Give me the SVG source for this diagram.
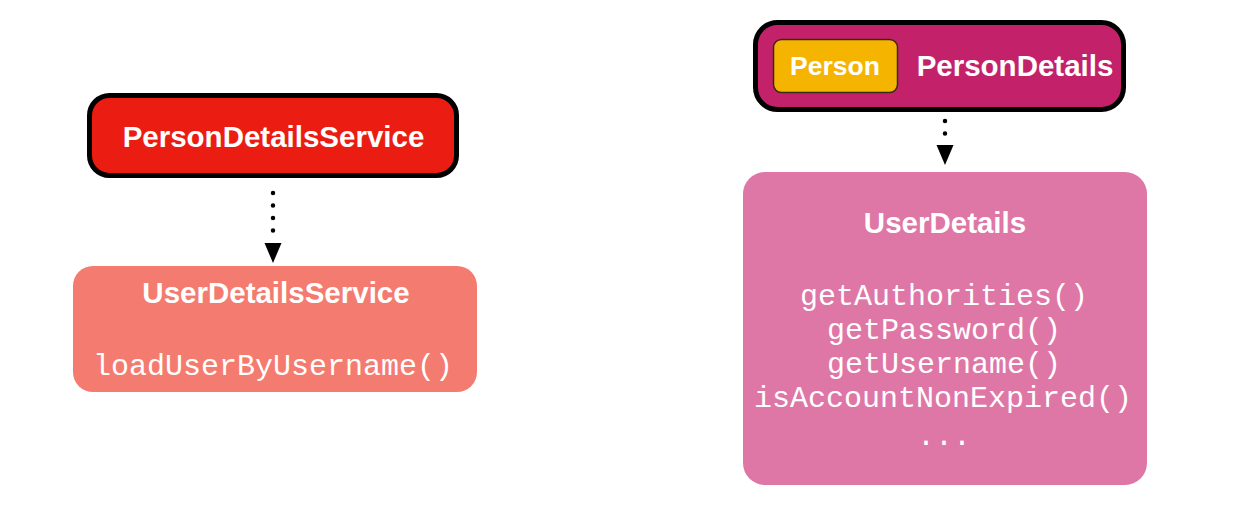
<svg xmlns="http://www.w3.org/2000/svg" width="1238" height="506" viewBox="0 0 1238 506">
<defs>
<style>
.title{font-family:"Liberation Sans",Arial,Helvetica,sans-serif;font-weight:bold;fill:#fff;text-anchor:middle}
.mono{font-family:"Liberation Mono","Courier New",monospace;fill:#fff;text-anchor:middle;font-size:30px}
.dots{stroke:#000;stroke-width:4.5;stroke-linecap:round;stroke-dasharray:0 12.5;fill:none}
</style>
</defs>
<rect width="1238" height="506" fill="#fff"/>
<g id="connectors">
<line class="dots" x1="273" y1="193" x2="273" y2="243"/>
<path d="M264.5,243 L281.5,243 L273,263 Z" fill="#000"/>
<line class="dots" x1="945" y1="121" x2="945" y2="134"/>
<path d="M936.5,145 L953.5,145 L945,165 Z" fill="#000"/>
</g>
<g id="personDetailsService">
<rect x="89.5" y="95.5" width="367" height="80" rx="20" fill="#EB1D12" stroke="#000" stroke-width="5"/>
<text class="title" x="273.5" y="147" font-size="29.5">PersonDetailsService</text>
</g>
<g id="userDetailsService">
<rect x="73" y="266" width="404" height="126" rx="20" fill="#F47B6F"/>
<text class="title" x="276" y="303" font-size="29.5">UserDetailsService</text>
<text class="mono" x="273" y="375">loadUserByUsername()</text>
</g>
<g id="personDetails">
<rect x="755.5" y="22.5" width="368" height="87" rx="22" fill="#C3226A" stroke="#000" stroke-width="5"/>
<g id="person">
<rect x="773.5" y="39.5" width="124" height="53" rx="8" fill="#F5B400" stroke="#3a2a10" stroke-width="1.5"/>
<text class="title" x="835" y="75" font-size="26.5">Person</text>
</g>
<text class="title" x="1015" y="76" font-size="29.5">PersonDetails</text>
</g>
<g id="userDetails">
<rect x="743" y="172" width="404" height="313" rx="22" fill="#DE77A6"/>
<text class="title" x="945" y="233" font-size="29.5">UserDetails</text>
<text class="mono" x="944" y="305">getAuthorities()</text>
<text class="mono" x="944" y="339">getPassword()</text>
<text class="mono" x="944" y="373">getUsername()</text>
<text class="mono" x="943" y="407">isAccountNonExpired()</text>
<text class="mono" x="944" y="445">...</text>
</g>
</svg>
